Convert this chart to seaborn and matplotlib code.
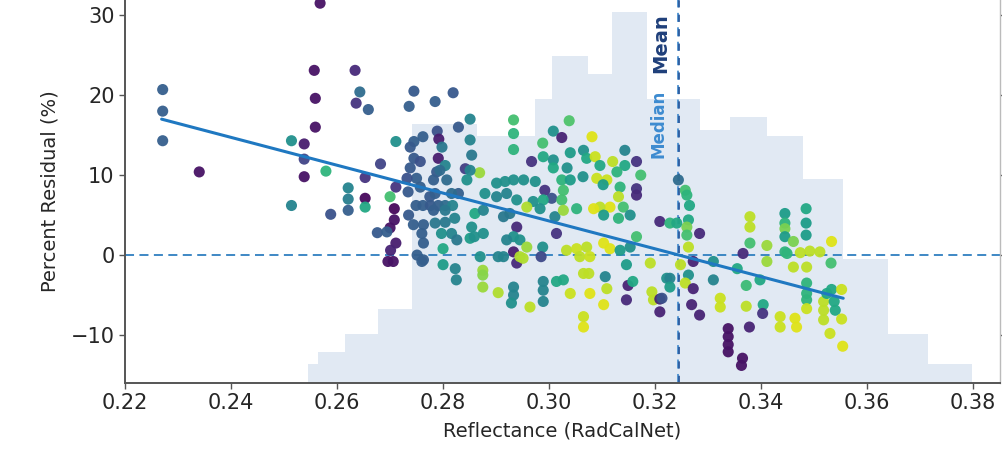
import numpy as np
import pandas as pd
import seaborn as sns
import matplotlib
matplotlib.use("Agg")
import matplotlib.pyplot as plt

# --- histogram of reflectance (background) ---
hist_edges = [0.2545, 0.2564, 0.2615, 0.2677, 0.2742, 0.2864, 0.2974, 0.3006, 0.3074,
              0.3119, 0.3185, 0.3285, 0.3342, 0.3411, 0.3479, 0.3555, 0.3640, 0.3715, 0.3798]
hist_counts = [3, 5, 8, 12, 42, 40, 46, 53, 50, 60, 46, 41, 43, 40, 33, 20, 8, 3]

# --- scatter: reflectance, percent residual, colour value (viridis 0..1) ---
refl = [
    0.2271, 0.2271, 0.2271, 0.2340, 0.2568, 0.2557, 0.2559, 0.2559, 0.2514, 0.2538,
    0.2538, 0.2538, 0.2579, 0.2514, 0.2588, 0.2634, 0.2643, 0.2636, 0.2621, 0.2621,
    0.2621, 0.2653, 0.2653, 0.2653, 0.2659, 0.2682, 0.2711, 0.2745, 0.2736, 0.2785,
    0.2819, 0.2851, 0.2829, 0.2789, 0.2792, 0.2762, 0.2745, 0.2738, 0.2798, 0.2851,
    0.2854, 0.2842, 0.2869, 0.2745, 0.2791, 0.2804, 0.2788, 0.2782, 0.2711, 0.2700,
    0.2708, 0.2708, 0.2700, 0.2711, 0.2701, 0.2696, 0.2706, 0.2676, 0.2694, 0.2735,
    0.2744, 0.2760, 0.2763, 0.2751, 0.2763, 0.2734, 0.2749, 0.2762, 0.2776, 0.2791,
    0.2804, 0.2785, 0.2804, 0.2818, 0.2822, 0.2800, 0.2800, 0.2823, 0.2825, 0.2875,
    0.2875, 0.2875, 0.2816, 0.2826, 0.2851, 0.2854, 0.2860, 0.2876, 0.2738, 0.2757,
    0.2750, 0.2732, 0.2757, 0.2775, 0.2794, 0.2807, 0.2851, 0.2845, 0.2829, 0.2816,
    0.2785, 0.2804, 0.2782, 0.2763, 0.2797, 0.2760,
    0.2933, 0.2933, 0.2933, 0.3038, 0.3008, 0.3024, 0.3081, 0.2988, 0.3040, 0.2989,
    0.2967, 0.3008, 0.3065, 0.3071, 0.3087, 0.3096, 0.3120, 0.3143, 0.3165, 0.3143,
    0.3173, 0.3128, 0.3008, 0.3034, 0.3024, 0.3040, 0.3064, 0.3090, 0.3109, 0.3102,
    0.3134, 0.3165, 0.3165, 0.3131, 0.3115, 0.3096, 0.3084, 0.3140, 0.3153, 0.3131,
    0.3103, 0.2933, 0.2952, 0.2974, 0.2920, 0.2939, 0.2970, 0.2992, 0.3005, 0.2989,
    0.3027, 0.3024, 0.2958, 0.2983, 0.3011, 0.3027, 0.3052, 0.2939, 0.2933, 0.2920,
    0.2945, 0.2933, 0.2939, 0.2958, 0.2988, 0.2985, 0.3014, 0.3033, 0.3052, 0.3071,
    0.3058, 0.3077, 0.3103, 0.3115, 0.3153, 0.3134, 0.3165, 0.3191, 0.3209, 0.3146,
    0.3106, 0.3065, 0.3075, 0.3027, 0.3014, 0.2989, 0.3040, 0.3077, 0.3103, 0.3109,
    0.3146, 0.3149, 0.3158, 0.3194, 0.3197, 0.3209, 0.3209, 0.3222, 0.3065, 0.3065,
    0.2989, 0.2989, 0.2964, 0.2933, 0.2933, 0.2929, 0.2904, 0.2870, 0.2859, 0.2876,
    0.2914, 0.2926, 0.2879, 0.2917, 0.2901, 0.2901, 0.2945, 0.2951, 0.2904, 0.2914,
    0.3244, 0.3257, 0.3260, 0.3265, 0.3263, 0.3260, 0.3260, 0.3263, 0.3284, 0.3272,
    0.3248, 0.3263, 0.3257, 0.3272, 0.3269, 0.3284, 0.3228, 0.3228, 0.3213, 0.3228,
    0.3241, 0.3310, 0.3310, 0.3323, 0.3323, 0.3338, 0.3338, 0.3338, 0.3338, 0.3365,
    0.3363, 0.3355, 0.3366, 0.3379, 0.3379, 0.3379, 0.3372, 0.3372, 0.3378, 0.3398,
    0.3404, 0.3403, 0.3411, 0.3411, 0.3436, 0.3436, 0.3445, 0.3445, 0.3445, 0.3445,
    0.3445, 0.3449, 0.3461, 0.3461, 0.3464, 0.3467, 0.3485, 0.3485, 0.3485, 0.3486,
    0.3486, 0.3486, 0.3486, 0.3486, 0.3474, 0.3492, 0.3511, 0.3533, 0.3532, 0.3518,
    0.3518, 0.3518, 0.3530, 0.3524, 0.3533, 0.3538, 0.3540, 0.3552, 0.3552, 0.3554,
]
resid = [
    20.7, 18.0, 14.3, 10.4, 31.5, 23.1, 19.6, 16.0, 14.3, 13.9,
    12.0, 9.8, 10.5, 6.2, 5.1, 23.1, 20.4, 19.0, 8.4, 7.0,
    5.6, 9.7, 7.1, 6.0, 18.2, 11.4, 14.2, 20.5, 18.6, 19.2,
    20.3, 17.0, 16.0, 15.5, 14.5, 14.8, 14.2, 13.5, 13.5, 14.4,
    12.5, 10.8, 10.3, 12.1, 12.1, 11.2, 10.4, 9.4, 8.5, 7.3,
    5.8, 4.4, 3.4, 1.5, 0.6, -0.8, -0.8, 2.8, 2.9, 5.0,
    3.8, 2.7, 1.5, 0.0, -0.6, 7.9, 6.2, 6.2, 6.2, 6.2,
    6.2, 4.0, 4.1, 6.2, 4.6, 0.8, -1.2, -1.7, -3.1, -1.9,
    -2.5, -4.0, 2.7, 1.9, 2.1, 3.5, 5.2, 5.6, 10.9, 11.7,
    9.6, 9.6, 8.5, 7.3, 10.6, 9.4, 10.6, 9.4, 7.7, 7.7,
    7.7, 5.6, 5.6, 3.8, 2.7, -0.8,
    16.9, 15.2, 13.2, 16.8, 15.5, 14.7, 14.8, 14.0, 12.8, 12.3,
    11.7, 11.9, 13.1, 12.1, 12.3, 11.2, 11.7, 13.1, 11.7, 11.2,
    10.0, 10.4, 10.9, 10.9, 9.4, 9.4, 9.8, 9.6, 9.4, 8.8,
    8.5, 8.3, 7.5, 7.3, 6.0, 6.0, 5.8, 6.0, 5.0, 4.6,
    5.0, 9.4, 9.4, 9.2, 7.7, 6.9, 6.7, 8.1, 7.1, 6.9,
    8.1, 6.9, 6.0, 5.8, 4.8, 5.6, 5.8, 3.5, 2.3, 1.9,
    1.9, 0.4, -1.0, 1.0, 1.0, -0.2, 2.7, 0.6, 0.8, 1.0,
    -0.2, -0.2, 1.5, 0.8, 1.0, 0.6, 2.3, -1.0, 4.2, -1.2,
    -2.7, -2.3, -2.3, -3.1, -3.3, -3.3, -4.8, -4.8, -6.2, -4.2,
    -5.6, -3.8, -3.3, -4.6, -5.6, -5.5, -7.1, -2.9, -7.7, -9.0,
    -4.4, -5.8, -6.5, -4.0, -5.0, -6.0, -4.7, -0.2, 2.3, 2.7,
    4.8, 5.2, 7.7, 9.2, 9.0, 7.3, -0.2, -0.4, -0.2, -0.2,
    9.4, 8.1, 7.5, 6.2, 4.4, 3.5, 2.5, 1.0, 2.7, -0.8,
    -1.2, -2.5, -3.5, -4.2, -6.2, -7.5, -2.9, -4.0, -5.4, 4.0,
    4.0, -0.8, -3.1, -5.4, -6.5, -9.2, -10.2, -11.2, -12.1, -12.9,
    -13.8, -1.7, 0.2, 4.8, 3.5, 1.5, -3.8, -6.4, -9.0, -3.1,
    -6.2, -7.3, 1.2, -0.8, -7.7, -9.0, 5.2, 4.0, 3.3, 2.3,
    0.4, 0.2, 1.7, -1.5, -7.9, -9.0, 5.8, 4.0, 2.5, -1.5,
    -3.5, -4.8, -5.6, -6.7, 0.3, 0.5, 0.4, 1.7, -1.0, -5.8,
    -6.9, -8.1, -9.8, -4.8, -4.3, -5.8, -6.9, -4.3, -8.0, -11.4,
]
cval = [
    0.30, 0.30, 0.30, 0.05, 0.05, 0.05, 0.05, 0.05, 0.50, 0.08,
    0.20, 0.05, 0.65, 0.45, 0.25, 0.12, 0.35, 0.15, 0.45, 0.42,
    0.30, 0.15, 0.02, 0.60, 0.30, 0.20, 0.50, 0.28, 0.30, 0.30,
    0.27, 0.45, 0.28, 0.25, 0.08, 0.30, 0.30, 0.28, 0.40, 0.45,
    0.40, 0.18, 0.85, 0.28, 0.08, 0.45, 0.28, 0.30, 0.15, 0.70,
    0.02, 0.05, 0.05, 0.08, 0.10, 0.05, 0.05, 0.28, 0.30, 0.28,
    0.30, 0.30, 0.30, 0.30, 0.30, 0.28, 0.30, 0.30, 0.28, 0.30,
    0.35, 0.40, 0.40, 0.45, 0.45, 0.60, 0.55, 0.45, 0.45, 0.85,
    0.82, 0.85, 0.45, 0.40, 0.55, 0.50, 0.60, 0.45, 0.28, 0.25,
    0.30, 0.25, 0.30, 0.28, 0.35, 0.35, 0.45, 0.50, 0.30, 0.35,
    0.30, 0.40, 0.30, 0.30, 0.50, 0.30,
    0.70, 0.65, 0.65, 0.72, 0.50, 0.10, 0.95, 0.70, 0.55, 0.60,
    0.15, 0.50, 0.50, 0.60, 0.92, 0.60, 0.90, 0.45, 0.15, 0.60,
    0.70, 0.65, 0.60, 0.50, 0.65, 0.55, 0.50, 0.92, 0.92, 0.55,
    0.65, 0.15, 0.12, 0.90, 0.95, 0.90, 0.95, 0.70, 0.50, 0.65,
    0.55, 0.50, 0.50, 0.50, 0.45, 0.50, 0.50, 0.15, 0.25, 0.60,
    0.70, 0.70, 0.88, 0.50, 0.45, 0.85, 0.65, 0.12, 0.50, 0.45,
    0.50, 0.08, 0.12, 0.85, 0.50, 0.22, 0.15, 0.90, 0.92, 0.90,
    0.90, 0.92, 0.95, 0.95, 0.50, 0.55, 0.70, 0.90, 0.12, 0.55,
    0.45, 0.90, 0.90, 0.60, 0.60, 0.45, 0.92, 0.95, 0.95, 0.90,
    0.12, 0.10, 0.60, 0.90, 0.90, 0.10, 0.10, 0.50, 0.92, 0.95,
    0.45, 0.45, 0.90, 0.45, 0.45, 0.50, 0.88, 0.50, 0.50, 0.50,
    0.40, 0.40, 0.50, 0.50, 0.50, 0.45, 0.88, 0.88, 0.45, 0.45,
    0.35, 0.70, 0.65, 0.60, 0.60, 0.80, 0.70, 0.90, 0.12, 0.10,
    0.90, 0.50, 0.90, 0.10, 0.10, 0.10, 0.45, 0.55, 0.25, 0.65,
    0.60, 0.50, 0.45, 0.92, 0.92, 0.05, 0.05, 0.05, 0.05, 0.05,
    0.05, 0.60, 0.12, 0.90, 0.90, 0.70, 0.68, 0.90, 0.10, 0.60,
    0.60, 0.15, 0.85, 0.85, 0.92, 0.92, 0.55, 0.65, 0.80, 0.55,
    0.65, 0.65, 0.80, 0.90, 0.95, 0.95, 0.60, 0.55, 0.55, 0.90,
    0.65, 0.65, 0.65, 0.92, 0.90, 0.90, 0.90, 0.95, 0.70, 0.90,
    0.90, 0.90, 0.92, 0.60, 0.60, 0.60, 0.60, 0.92, 0.92, 0.95,
]

# regression line end points and the reference lines
fit_x = [0.2269, 0.3555]
fit_y = [17.0, -5.4]
median_x = 0.3243
mean_x = 0.3246

df = pd.DataFrame({"refl": refl, "resid": resid, "c": cval})
centers = [(a + b) / 2 for a, b in zip(hist_edges[:-1], hist_edges[1:])]

sns.set_style("white")
plt.rcParams["font.family"] = ["DejaVu Sans"]

fig = plt.figure(figsize=(10.02, 4.57), dpi=100)
ax = fig.add_axes([0.1248, 0.1619, 0.8733, 0.8381])
axh = ax.twinx()

# background histogram
sns.histplot(x=centers, weights=hist_counts, bins=hist_edges, element="step",
             fill=True, color="#e1e9f3", alpha=1.0, linewidth=0, ax=axh)
axh.set_ylim(0, 62)
axh.set_yticks([])
axh.set_ylabel("")
for s in axh.spines.values():
    s.set_visible(False)

ax.set_zorder(axh.get_zorder() + 1)
ax.patch.set_visible(False)

ax.axhline(0, color="#2f7fc0", ls=(0, (5, 3)), lw=1.3, zorder=1)
ax.axvline(median_x, color="#4a90d0", ls=(0, (5, 3)), lw=1.3, zorder=1)
ax.axvline(mean_x, color="#2a5a9e", ls=(0, (4, 4)), lw=1.3, zorder=1)

sns.scatterplot(data=df, x="refl", y="resid", hue="c", palette="viridis",
                hue_norm=(0, 1), s=64, linewidth=0, alpha=0.95, legend=False,
                ax=ax, zorder=3)
sns.lineplot(x=fit_x, y=fit_y, color="#1f78c1", lw=2.2, ax=ax, zorder=4)

ax.text(median_x - 0.0036, 16.4, "Median", rotation=90, ha="center", va="center",
        color="#3d8bd0", fontsize=12, fontweight="semibold", zorder=5)
ax.text(mean_x - 0.0036, 26.5, "Mean", rotation=90, ha="center", va="center",
        color="#1f3f7a", fontsize=14, fontweight="bold", zorder=5,
        bbox=dict(facecolor="white", edgecolor="none", pad=1))

ax.set_xlim(0.22, 0.3851)
ax.set_ylim(-16.0, 31.9)
ax.set_xticks(np.arange(0.22, 0.3801, 0.02))
ax.set_xticklabels([f"{v:.2f}" for v in np.arange(0.22, 0.3801, 0.02)])
ax.set_yticks([-10, 0, 10, 20, 30])
ax.tick_params(axis="both", labelsize=15, length=4, width=1.0, color="#555555")
ax.tick_params(axis="y", right=True, left=True)
ax.tick_params(axis="x", bottom=True)
ax.set_xlabel("Reflectance (RadCalNet)", fontsize=14, labelpad=6)
ax.set_ylabel("Percent Residual (%)", fontsize=14, labelpad=8)

ax.spines["top"].set_visible(False)
for side in ["left", "bottom"]:
    ax.spines[side].set_color("#555555")
    ax.spines[side].set_linewidth(1.4)
ax.spines["right"].set_color("#bbbbbb")
ax.spines["right"].set_linewidth(1.0)

fig.savefig("out.png", dpi=100)
